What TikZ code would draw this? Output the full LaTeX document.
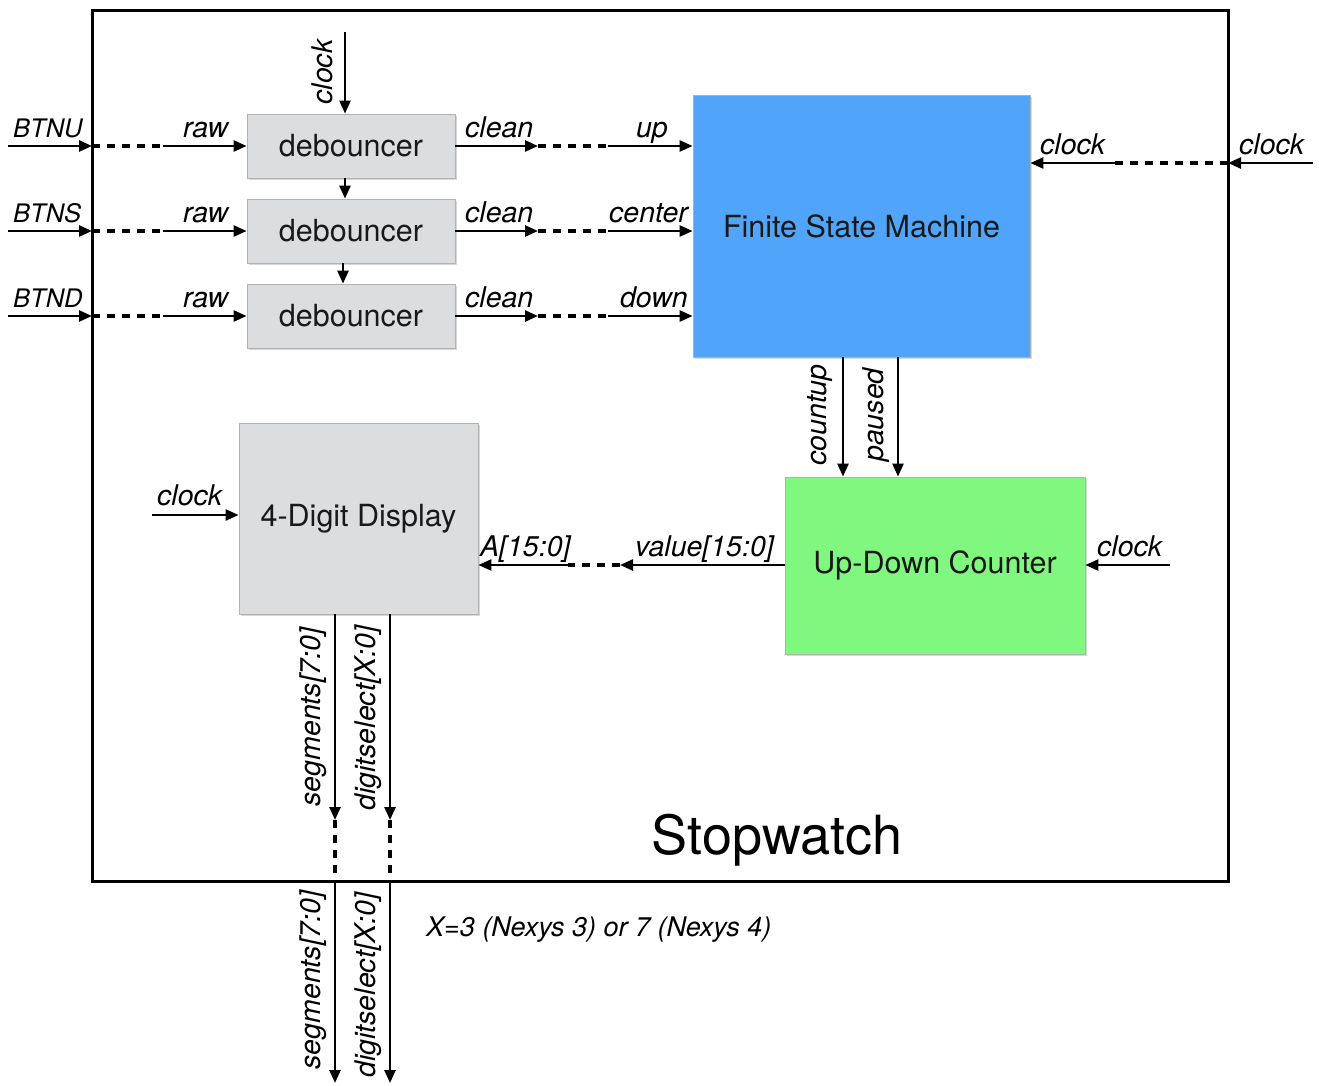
\documentclass[tikz,border=0pt]{standalone}
\usepackage{fontspec}
\setmainfont{TeX Gyre Heros}
\usetikzlibrary{arrows.meta,shadows}
\definecolor{boxgray}{RGB}{220,221,222}
\definecolor{fsmblue}{RGB}{80,165,250}
\definecolor{cntgreen}{RGB}{128,248,128}
\begin{document}
\begin{tikzpicture}[x=1pt,y=-1pt,
 arr/.style={line width=2.5pt,-{Triangle[length=13pt,width=11pt]}},
 dsh/.style={line width=3.8pt,dash pattern=on 8pt off 7pt},
 blk/.style={draw=black!30,line width=0.8pt,inner sep=0pt,text=black!90,
   font=\fontsize{30.5}{36}\selectfont,
   drop shadow={shadow xshift=1.5pt,shadow yshift=-1.5pt,opacity=0.3}},
 lbl/.style={font=\fontsize{28.5}{33}\selectfont\itshape,inner sep=0pt},
 btn/.style={font=\fontsize{25.5}{30}\selectfont\itshape,inner sep=0pt},
]
\useasboundingbox (0,0) rectangle (1319,1085);
\fill[white] (0,0) rectangle (1319,1085);
% frame
\draw[line width=3pt] (92,10) rectangle (1228,881);
\node[font=\fontsize{54}{60}\selectfont] (title) at (777,840) {Stopwatch};

% blocks
\node[blk,fill=boxgray,minimum width=208pt,minimum height=64pt] (d1) at (351,146) {debouncer};
\node[blk,fill=boxgray,minimum width=208pt,minimum height=64pt] (d2) at (351,231) {debouncer};
\node[blk,fill=boxgray,minimum width=208pt,minimum height=64pt] (d3) at (351,316) {debouncer};
\node[blk,fill=fsmblue,minimum width=337pt,minimum height=262pt] (fsm) at (861.5,226) {Finite State Machine};
\node[blk,fill=cntgreen,minimum width=300pt,minimum height=177pt] (cnt) at (935,565.5) {Up-Down Counter};
\node[blk,fill=boxgray,minimum width=239pt,minimum height=191pt] (disp) at (358.5,518.5) {4-Digit Display};

% top clock to debouncers
\coordinate (tc) at (345,32);
\draw[arr] (tc) -- (tc |- d1.north);
\node[lbl,rotate=90] (tcl) at (322,72) {clock};
\draw[arr] (d1.south -| tc) -- (d2.north -| tc);
\coordinate (tc2) at (343,0);
\draw[arr] (d2.south -| tc2) -- (d3.north -| tc2);

% button rows
\foreach \n/\y/\b in {1/146/BTNU,2/231/BTNS,3/316/BTND}{
  \coordinate (in\n) at (8,\y);
  \coordinate (fl\n) at (92,\y);
  \coordinate (ml\n) at (163,\y);
  \draw[arr] (in\n) -- (fl\n);
  \draw[dsh] (fl\n) -- (ml\n);
  \draw[arr] (ml\n) -- (ml\n -| d\n.west);
  \node[btn,anchor=base west] (bl\n) at (13,\y-9) {\b};
  \node[lbl,anchor=base west] (rl\n) at (183,\y-9) {raw};
  \coordinate (cr\n) at (538,\y);
  \coordinate (cm\n) at (608,\y);
  \draw[arr] (cr\n -| d\n.east) -- (cr\n);
  \draw[dsh] (cr\n) -- (cm\n);
  \draw[arr] (cm\n) -- (cm\n -| fsm.west);
  \node[lbl,anchor=base west] (cl\n) at (465,\y-9) {clean};
}
\node[lbl,anchor=base east] (ol1) at (668,137) {up};
\node[lbl,anchor=base east] (ol2) at (688,222) {center};
\node[lbl,anchor=base east] (ol3) at (688,307) {down};

% FSM clock
\coordinate (rc) at (1313,163);
\coordinate (rcf) at (1228,163);
\coordinate (rcm) at (1115,163);
\draw[arr] (rc) -- (rcf);
\draw[dsh] (rcf) -- (rcm);
\draw[arr] (rcm) -- (rcm -| fsm.east);
\node[lbl,anchor=base west] (rcl1) at (1239,154) {clock};
\node[lbl,anchor=base west] (rcl2) at (1040,154) {clock};

% FSM to counter
\coordinate (cu) at (843,0);
\coordinate (pa) at (898,0);
\draw[arr] (fsm.south -| cu) -- (cnt.north -| cu);
\draw[arr] (fsm.south -| pa) -- (cnt.north -| pa);
\node[lbl,rotate=90] (cul) at (820,415) {countup};
\node[lbl,rotate=90] (pal) at (876,415) {paused};

% counter clock
\coordinate (cc) at (1170,565);
\draw[arr] (cc) -- (cc -| cnt.east);
\node[lbl,anchor=base west] (ccl) at (1097,556) {clock};

% value bus
\coordinate (vm) at (620,565);
\coordinate (vm2) at (568,565);
\draw[arr] (cnt.west |- vm) -- (vm);
\draw[dsh] (vm) -- (vm2);
\draw[arr] (vm2) -- (vm2 -| disp.east);
\node[lbl,anchor=base west] (vl) at (635,556) {value[15:0]};
\node[lbl,anchor=base west] (al) at (480,556) {A[15:0]};

% display clock
\coordinate (dc) at (152,515);
\draw[arr] (dc) -- (dc -| disp.west);
\node[lbl,anchor=base west] (dcl) at (157,505) {clock};

% outputs
\foreach \x in {335,390}{
  \coordinate (o1) at (\x,820);
  \coordinate (o2) at (\x,881);
  \coordinate (o3) at (\x,1083);
  \draw[arr] (disp.south -| o1) -- (o1);
  \draw[dsh] (o1) -- (o2);
  \draw[arr] (o2) -- (o3);
}
\node[lbl,rotate=90] (sl1) at (313,717) {segments[7:0]};
\node[lbl,rotate=90] (dl1) at (368,718) {digitselect[X:0]};
\node[lbl,rotate=90] (sl2) at (313,980) {segments[7:0]};
\node[lbl,rotate=90] (dl2) at (368,985) {digitselect[X:0]};
\node[lbl,font=\fontsize{27}{32}\selectfont\itshape,anchor=west] (note) at (426,930) {X=3 (Nexys 3) or 7 (Nexys 4)};
\end{tikzpicture}
\end{document}
